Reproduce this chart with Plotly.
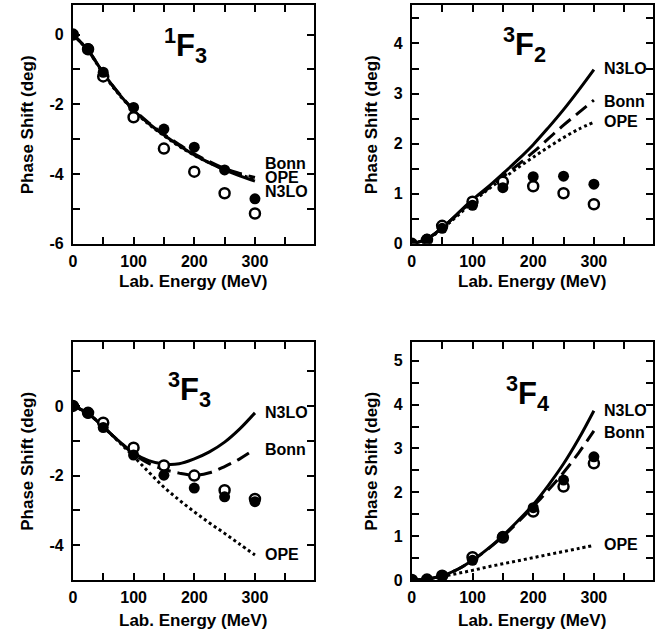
import plotly.graph_objects as go

# ---------------- data ----------------
E_PTS = [0, 25, 50, 100, 150, 200, 250, 300]
E_CURVE = [0, 25, 50, 75, 100, 125, 150, 175, 200, 225, 250, 275, 300]

# 1F3
F13_FILLED = [0, -0.40, -1.08, -2.09, -2.71, -3.23, -3.88, -4.71]
F13_OPEN = [0, -0.42, -1.20, -2.37, -3.27, -3.93, -4.55, -5.13]
F13_N3LO = [0, -0.45, -1.10, -1.68, -2.17, -2.55, -2.88, -3.18, -3.45, -3.68, -3.88, -4.05, -4.20]
F13_BONN = [0, -0.45, -1.10, -1.67, -2.15, -2.53, -2.86, -3.15, -3.42, -3.64, -3.84, -3.98, -4.10]
F13_OPE = [0, -0.46, -1.12, -1.70, -2.18, -2.57, -2.90, -3.20, -3.46, -3.68, -3.87, -4.02, -4.15]

# 3F2
F32_FILLED = [0, 0.09, 0.31, 0.77, 1.12, 1.34, 1.35, 1.19]
F32_OPEN = [0, 0.08, 0.36, 0.84, 1.24, 1.15, 1.01, 0.79]
F32_N3LO = [0, 0.10, 0.32, 0.60, 0.88, 1.13, 1.40, 1.68, 1.98, 2.32, 2.68, 3.07, 3.48]
F32_BONN = [0, 0.10, 0.32, 0.59, 0.86, 1.10, 1.34, 1.58, 1.83, 2.10, 2.37, 2.62, 2.87]
F32_OPE = [0, 0.09, 0.30, 0.56, 0.83, 1.08, 1.30, 1.52, 1.73, 1.93, 2.12, 2.29, 2.43]

# 3F3
F33_FILLED = [0, -0.21, -0.62, -1.41, -1.99, -2.36, -2.61, -2.75]
F33_OPEN = [0, -0.20, -0.48, -1.20, -1.71, -2.00, -2.42, -2.67]
F33_N3LO = [0, -0.22, -0.60, -1.00, -1.35, -1.57, -1.67, -1.66, -1.52, -1.32, -1.04, -0.66, -0.20]
F33_BONN = [0, -0.22, -0.60, -1.00, -1.38, -1.65, -1.82, -1.93, -1.99, -1.92, -1.74, -1.52, -1.24]
F33_OPE = [0, -0.22, -0.60, -1.02, -1.45, -1.90, -2.33, -2.70, -3.04, -3.36, -3.66, -3.97, -4.28]

# 3F4
F34_FILLED = [0, 0.01, 0.10, 0.45, 1.00, 1.65, 2.28, 2.81]
F34_OPEN = [0, 0.01, 0.10, 0.52, 0.97, 1.56, 2.13, 2.66]
F34_N3LO = [0, 0.02, 0.10, 0.24, 0.45, 0.71, 1.01, 1.35, 1.72, 2.16, 2.65, 3.22, 3.86]
F34_BONN = [0, 0.02, 0.10, 0.24, 0.45, 0.70, 0.99, 1.32, 1.68, 2.05, 2.45, 2.90, 3.40]
F34_OPE = [0, 0.02, 0.08, 0.15, 0.22, 0.30, 0.37, 0.44, 0.51, 0.58, 0.65, 0.72, 0.79]

X_TICKS = [0, 100, 200, 300]
X_TICKTEXT = ["0", "100", "200", "300"]
X_MINOR = [50, 150, 250, 350]

PANELS = [
    dict(title="<sup>1</sup>F<sub>3</sub>", filled=F13_FILLED, opn=F13_OPEN,
         n3lo=F13_N3LO, bonn=F13_BONN, ope=F13_OPE,
         yrange=[-6, 0.85], yticks=[0, -2, -4, -6], yticktext=["0", "-2", "-4", "-6"],
         yminor=[-1, -3, -5],
         labels=[("Bonn", -3.70), ("OPE", -4.09), ("N3LO", -4.50)],
         title_pos=(186, -0.30)),
    dict(title="<sup>3</sup>F<sub>2</sub>", filled=F32_FILLED, opn=F32_OPEN,
         n3lo=F32_N3LO, bonn=F32_BONN, ope=F32_OPE,
         yrange=[0, 4.77], yticks=[0, 1, 2, 3, 4], yticktext=["0", "1", "2", "3", "4"],
         yminor=[0.5, 1.5, 2.5, 3.5, 4.5],
         labels=[("N3LO", 3.51), ("Bonn", 2.84), ("OPE", 2.44)],
         title_pos=(185, 3.98)),
    dict(title="<sup>3</sup>F<sub>3</sub>", filled=F33_FILLED, opn=F33_OPEN,
         n3lo=F33_N3LO, bonn=F33_BONN, ope=F33_OPE,
         yrange=[-5, 1.84], yticks=[0, -2, -4], yticktext=["0", "-2", "-4"],
         yminor=[1, -1, -3],
         labels=[("N3LO", -0.19), ("Bonn", -1.26), ("OPE", -4.28)],
         title_pos=(192, 0.48)),
    dict(title="<sup>3</sup>F<sub>4</sub>", filled=F34_FILLED, opn=F34_OPEN,
         n3lo=F34_N3LO, bonn=F34_BONN, ope=F34_OPE,
         yrange=[0, 5.43], yticks=[0, 1, 2, 3, 4, 5], yticktext=["0", "1", "2", "3", "4", "5"],
         yminor=[0.5, 1.5, 2.5, 3.5, 4.5],
         labels=[("N3LO", 3.86), ("Bonn", 3.37), ("OPE", 0.80)],
         title_pos=(190, 4.26)),
]

# ---------------- layout geometry ----------------
W, H = 662, 641
XDOM = [[69.3 / W, 311.7 / W], [410.3 / W, 652.7 / W]]
YDOM = [[(H - 247.3) / H, (H - 5) / H], [(H - 588.3) / H, (H - 346.7) / H]]
XRANGE = [0, 397]

FONT = "Liberation Sans, Arial, Helvetica, sans-serif"

fig = go.Figure()
layout = dict(width=W, height=H, margin=dict(l=0, r=0, t=0, b=0),
              paper_bgcolor="white", plot_bgcolor="white", showlegend=False,
              font=dict(family=FONT, color="black"))
annotations = []

for i, p in enumerate(PANELS):
    row, col = divmod(i, 2)
    n = i + 1
    xa = "x" if n == 1 else f"x{n}"
    ya = "y" if n == 1 else f"y{n}"
    xkey = "xaxis" if n == 1 else f"xaxis{n}"
    ykey = "yaxis" if n == 1 else f"yaxis{n}"

    axis_common = dict(showline=True, linewidth=2, linecolor="black", mirror="ticks",
                       ticks="inside", ticklen=7, tickwidth=2, tickcolor="black",
                       showgrid=False, zeroline=False,
                       tickfont=dict(family=FONT, size=16, color="black", weight="bold"))
    layout[xkey] = dict(axis_common, domain=XDOM[col], anchor=ya, range=XRANGE,
                        tickvals=X_TICKS, ticktext=X_TICKTEXT, ticklabelstandoff=2,
                        minor=dict(tickvals=X_MINOR, ticks="inside", ticklen=7,
                                   tickwidth=2, tickcolor="black"))
    layout[ykey] = dict(axis_common, domain=YDOM[row], anchor=xa, range=p["yrange"],
                        tickvals=p["yticks"], ticktext=p["yticktext"],
                        ticklabelstandoff=4,
                        minor=dict(tickvals=p["yminor"], ticks="inside", ticklen=7,
                                   tickwidth=2, tickcolor="black"))

    # curves
    fig.add_trace(go.Scatter(x=E_CURVE, y=p["ope"], mode="lines", xaxis=xa, yaxis=ya,
                             line=dict(color="black", width=3, dash="dot", shape="spline")))
    fig.add_trace(go.Scatter(x=E_CURVE, y=p["bonn"], mode="lines", xaxis=xa, yaxis=ya,
                             line=dict(color="black", width=3, dash="14px,7px", shape="spline")))
    fig.add_trace(go.Scatter(x=E_CURVE, y=p["n3lo"], mode="lines", xaxis=xa, yaxis=ya,
                             line=dict(color="black", width=3, shape="spline")))
    # data points
    fig.add_trace(go.Scatter(x=E_PTS, y=p["opn"], mode="markers", xaxis=xa, yaxis=ya,
                             marker=dict(symbol="circle", size=10, color="white",
                                         line=dict(color="black", width=2.5))))
    fig.add_trace(go.Scatter(x=E_PTS, y=p["filled"], mode="markers", xaxis=xa, yaxis=ya,
                             marker=dict(symbol="circle", size=11, color="black",
                                         line=dict(color="black", width=0))))

    # curve labels
    for txt, yv in p["labels"]:
        annotations.append(dict(x=313, y=yv, xref=xa, yref=ya, text=txt, showarrow=False,
                                xanchor="left", yanchor="middle",
                                font=dict(family=FONT, size=16, color="black", weight="bold")))
    # panel title
    annotations.append(dict(x=p["title_pos"][0], y=p["title_pos"][1], xref=xa, yref=ya,
                            text=p["title"], showarrow=False, xanchor="center", yanchor="middle",
                            font=dict(family=FONT, size=31, color="black", weight="bold")))

    # axis titles
    xc = (XDOM[col][0] + XDOM[col][1]) / 2
    yc = (YDOM[row][0] + YDOM[row][1]) / 2
    xt_y = (H - 286) / H if row == 0 else (H - 629) / H
    yt_x = 24 / W if col == 0 else 370 / W
    annotations.append(dict(x=xc, y=xt_y, xref="paper", yref="paper", text="Lab. Energy (MeV)",
                            showarrow=False, xanchor="center", yanchor="middle",
                            font=dict(family=FONT, size=17, color="black", weight="bold")))
    annotations.append(dict(x=yt_x, y=yc, xref="paper", yref="paper", text="Phase Shift (deg)",
                            showarrow=False, xanchor="center", yanchor="middle", textangle=-90,
                            font=dict(family=FONT, size=17, color="black", weight="bold")))

layout["annotations"] = annotations
fig.update_layout(**layout)
fig.write_html("out.html")
